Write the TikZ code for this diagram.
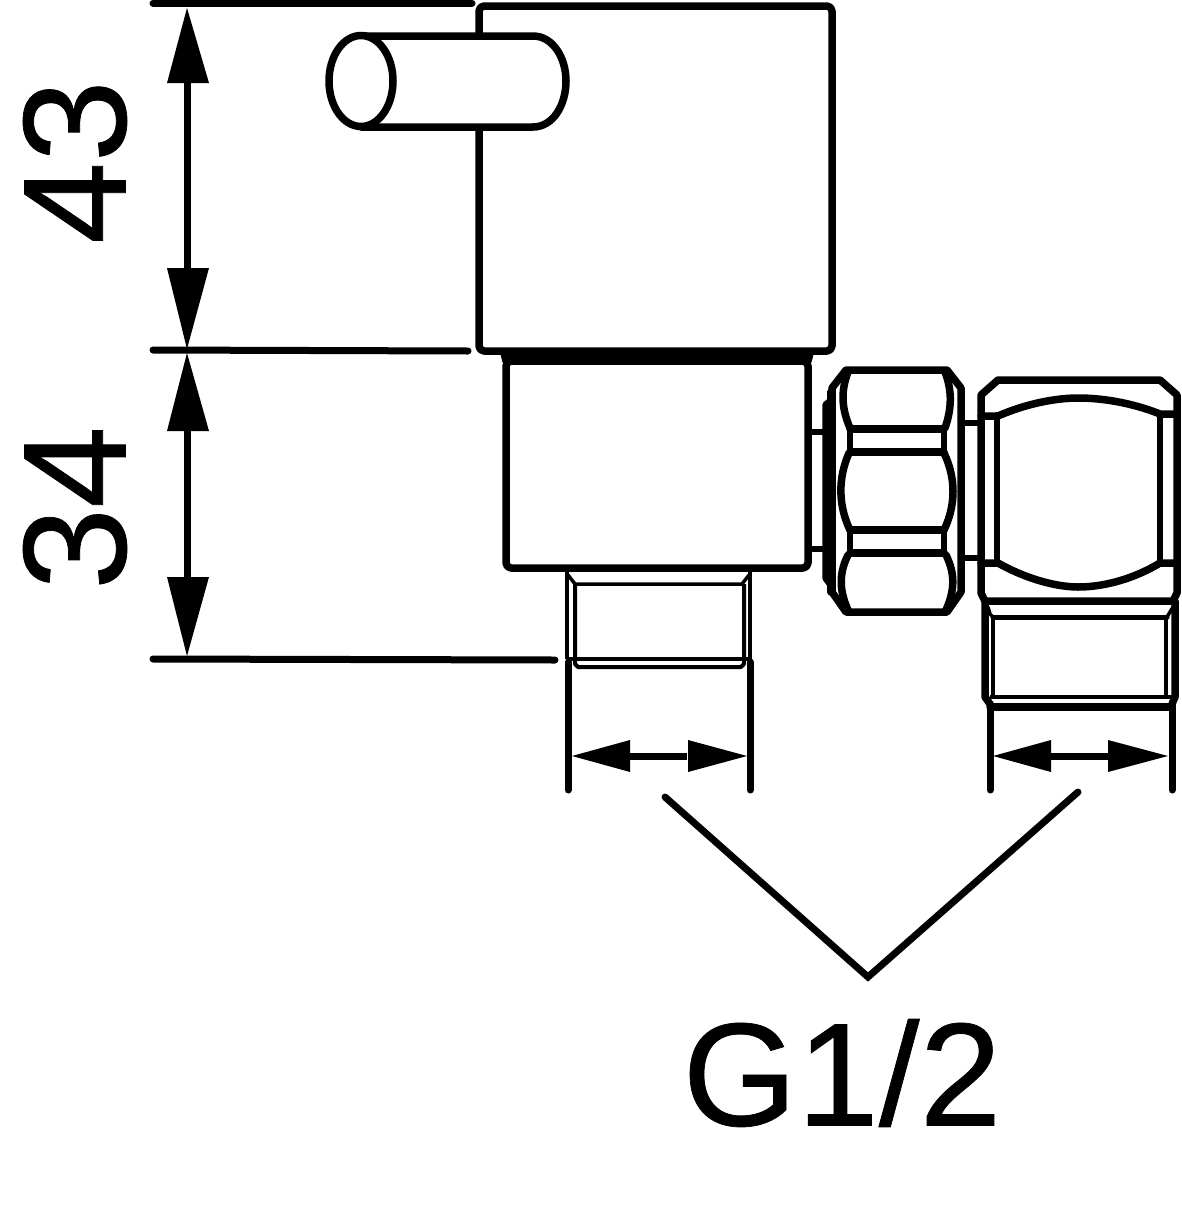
\documentclass[tikz,border=0pt]{standalone}
\usepackage{fontspec}
\setmainfont{Liberation Sans}
\newfontfamily\lblfont[FakeBold=0.5]{Liberation Sans}
\tikzset{
  part/.style={draw=black,line width=7.5pt,line join=round,line cap=round},
  mid/.style={draw=black,line width=6pt,line join=round,line cap=round},
  thin/.style={draw=black,line width=3.5pt,line join=round,line cap=butt},
  dim/.style={draw=black,line width=7pt,line cap=round},
  head/.style={fill=black,draw=none},
  lbl/.style={inner sep=0pt,font=\lblfont\fontsize{147}{147}\selectfont}
}
\begin{document}
\begin{tikzpicture}[x=1pt,y=-1pt]
\useasboundingbox (0,0) rectangle (1181,1210);
% --- body
\draw[part,rounded corners=5pt] (479,6) rectangle (832,351);
% --- handle
\draw[part,fill=white] (361,36) -- (533,36) .. controls (553,36) and (566,58) .. (566,81) .. controls (566,105) and (553,127) .. (533,127) -- (361,127);
\draw[part,fill=white] (361,81) ellipse [x radius=32,y radius=45.5];
% --- lower body
\draw[part] (504,353) -- (506,361) -- (808,361) -- (810,353);
\draw[part] (506,356) -- (808,356);
\draw[part,rounded corners=5pt] (506,361) rectangle (808,568);
% --- thread 1
\draw[thin] (567,568) -- (567,659);
\draw[thin] (750,568) -- (750,659);
\draw[thin] (568,575) -- (575,584) -- (742,584) -- (749,575);
\draw[thin,line width=4pt] (575,584) -- (575,664) -- (578,667) -- (741,667) -- (744,664) -- (744,584);
\draw[thin,line width=4.5pt] (567,659) -- (750,659);
\draw[dim] (568,662) -- (568,790);
\draw[dim] (750,662) -- (750,790);
% --- dimension 1/2 left
\draw[dim,line cap=butt] (630,756) -- (687,756);
\path[head] (572,756) -- (630,740) -- (630,772) -- cycle;
\path[head] (747,756) -- (688,740) -- (688,772) -- cycle;
% --- stems
\draw[mid,line width=6pt,line cap=butt] (810,432) -- (826,432);
\draw[mid,line width=6pt,line cap=butt] (810,549) -- (826,549);
\draw[mid,line width=6pt,line cap=butt] (962,423) -- (979,423);
\draw[mid,line width=6pt,line cap=butt] (962,558) -- (979,558);
% --- washer
\draw[part] (832,400) -- (826,405) -- (826,578) -- (832,586);
\draw[part] (831,392) -- (831,592);
% --- hex nut
\draw[part] (846,370) -- (947,370) -- (961,388) -- (961,592) -- (947,612) -- (846,612) -- (832,592) -- (832,388) -- cycle;
\draw[part] (848,372) .. controls (842,388) and (840,405) .. (850,428);
\draw[part] (945,372) .. controls (951,388) and (953,405) .. (945,428);
\draw[part] (850,429) -- (944,429);
\draw[part] (850,452) -- (944,452);
\draw[mid,line cap=butt] (850,429) -- (850,452);
\draw[mid,line cap=butt] (944,429) -- (944,452);
\draw[part] (849,453) .. controls (838,478) and (838,505) .. (850,530);
\draw[part] (944,453) .. controls (956,478) and (956,505) .. (944,530);
\draw[part] (850,530) -- (944,530);
\draw[part] (850,553) -- (944,553);
\draw[mid,line cap=butt] (850,530) -- (850,553);
\draw[mid,line cap=butt] (944,530) -- (944,553);
\draw[part] (848,555) .. controls (838,575) and (840,592) .. (848,610);
\draw[part] (946,555) .. controls (956,575) and (954,592) .. (946,610);
% --- right block
\draw[part] (998,380) -- (1160,380) -- (1177,395) -- (1177,593) -- (1173,601) -- (985,601) -- (981,593) -- (981,395) -- cycle;
\draw[mid] (997,415) -- (997,562);
\draw[mid] (1160,415) -- (1160,562);
\draw[part] (981,416) -- (998,416) .. controls (1030,402) and (1060,398) .. (1078,398) .. controls (1100,398) and (1130,402) .. (1160,414) -- (1177,414);
\draw[part] (981,563) -- (998,563) .. controls (1030,581) and (1060,587) .. (1078,587) .. controls (1100,587) and (1130,581) .. (1160,563) -- (1177,563);
% --- thread 2
\draw[part] (985,601) -- (985,697) -- (990,704);
\draw[part] (1175,601) -- (1175,697) -- (1172,704);
\draw[thin] (988,607) -- (990,614) -- (993,617);
\draw[thin] (1173,607) -- (1167,617);
\draw[mid,line width=5pt] (993,617) -- (1167,617);
\draw[thin,line width=4pt] (993,617) -- (993,697);
\draw[thin,line width=4pt] (1166,617) -- (1166,697);
\draw[thin,line width=4pt] (990,697) -- (1172,697);
\draw[part] (990,707) -- (1172,707);
\draw[dim] (990,704) -- (990,790);
\draw[dim] (1172,704) -- (1172,790);
% --- dimension 1/2 right
\draw[dim,line cap=butt] (1051,756) -- (1108,756);
\path[head] (993,756) -- (1051,740) -- (1051,772) -- cycle;
\path[head] (1168,756) -- (1108,740) -- (1108,772) -- cycle;
% --- vertical dimensions
\draw[dim] (153,3) -- (472,3);
\draw[dim] (153,350) -- (468,351);
\draw[dim] (153,659) -- (555,660);
\draw[dim,line cap=butt] (187,83) -- (187,268);
\path[head] (187,8) -- (167,83) -- (209,83) -- cycle;
\path[head] (187,349) -- (167,268) -- (209,268) -- cycle;
\draw[dim,line cap=butt] (187,431) -- (187,577);
\path[head] (187,353) -- (167,431) -- (209,431) -- cycle;
\path[head] (187,656) -- (167,577) -- (209,577) -- cycle;
% --- leader
\draw[dim,line join=miter] (665,797) -- (868,977) -- (1078,792);
% --- labels
\node[lbl,rotate=90] (d43) at (75,162) {43};
\node[lbl,rotate=90] (d34) at (75,508) {34};
\node[lbl] (g) at (842,1073) {G1/2};
\end{tikzpicture}
\end{document}
